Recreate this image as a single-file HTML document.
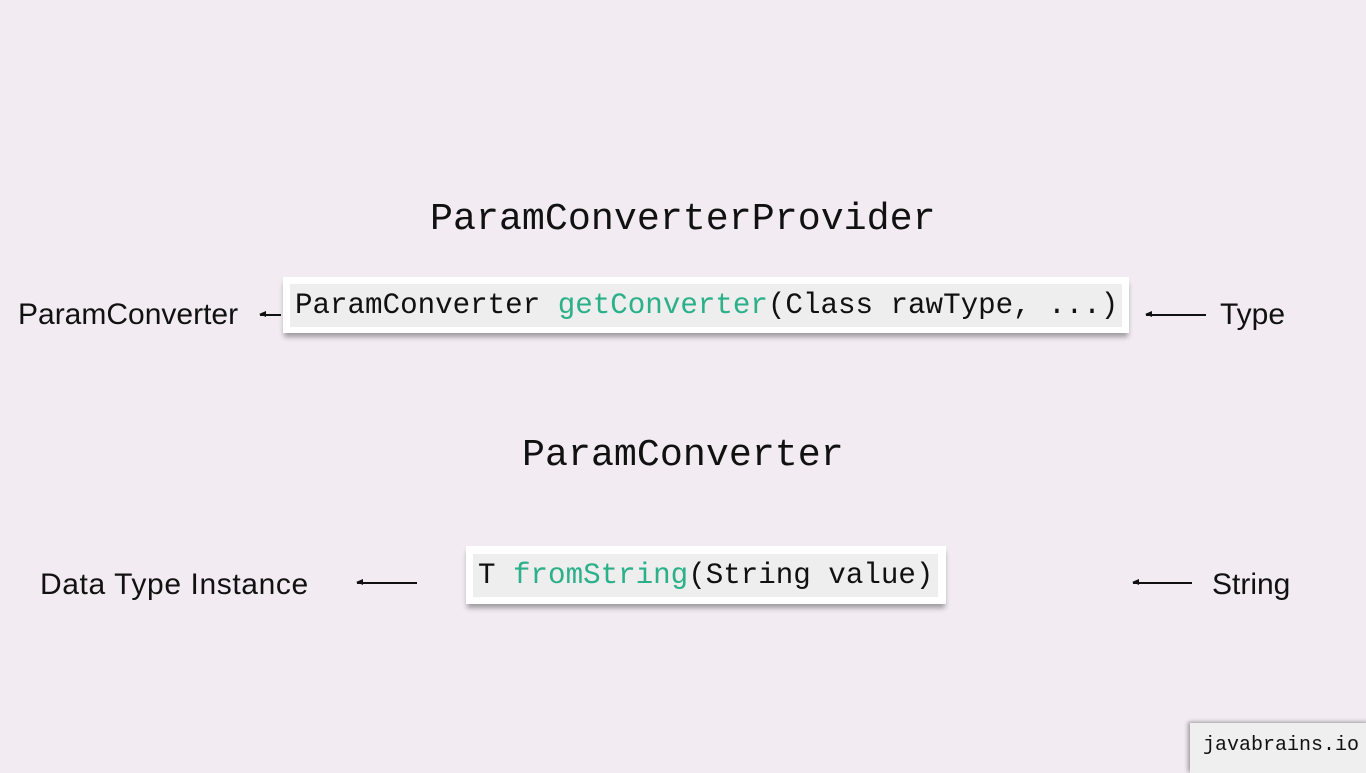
<!DOCTYPE html>
<html><head><meta charset="utf-8"><style>
html,body{margin:0;padding:0;}
body{width:1366px;height:768px;background:#f2ecf2;position:relative;overflow:hidden;}
.a{position:absolute;white-space:nowrap;}
.mono{font-family:"Liberation Mono","DejaVu Sans Mono",monospace;color:#111;}
.sans{font-family:"Liberation Sans",sans-serif;color:#111;font-size:30px;letter-spacing:0px;}
.box{position:absolute;background:#fff;box-shadow:0 5px 5px -1px rgba(0,0,0,0.35);}
.inner{position:absolute;background:#eeeeee;}
.g{color:#2bb08a;}
.arr{position:absolute;height:1.5px;background:#111;}
.arr:before{content:"";position:absolute;left:-1px;top:-3px;border-right:7px solid #111;border-top:3.5px solid transparent;border-bottom:3.5px solid transparent;}
</style></head><body>
<div class="a mono" style="left:430px;top:196px;font-size:38.3px;line-height:46px;">ParamConverterProvider</div>
<div class="box" style="left:283px;top:277px;width:846px;height:56px;"></div>
<div class="inner" style="left:290px;top:284px;width:832px;height:43px;"></div>
<div class="a mono" style="left:295px;top:288px;font-size:29.2px;line-height:36px;">ParamConverter <span class="g">getConverter</span>(Class rawType, ...)</div>
<div class="a sans" style="left:18px;top:297px;line-height:36px;">ParamConverter</div>
<div class="arr" style="left:260px;top:314px;width:21px;"></div>
<div class="arr" style="left:1146px;top:314px;width:60px;"></div>
<div class="a sans" style="left:1220px;top:297px;line-height:36px;">Type</div>

<div class="a mono" style="left:522px;top:432px;font-size:38.3px;line-height:46px;">ParamConverter</div>
<div class="box" style="left:466px;top:546px;width:480px;height:58px;"></div>
<div class="inner" style="left:473px;top:554px;width:465px;height:43px;"></div>
<div class="a mono" style="left:478px;top:558px;font-size:29.2px;line-height:36px;">T <span class="g">fromString</span>(String value)</div>
<div class="a sans" style="left:40px;top:567px;line-height:36px;letter-spacing:0.6px;">Data Type Instance</div>
<div class="arr" style="left:357px;top:582px;width:60px;"></div>
<div class="arr" style="left:1133px;top:582px;width:59px;"></div>
<div class="a sans" style="left:1212px;top:567px;line-height:36px;">String</div>

<div class="box" style="left:1190px;top:723px;width:180px;height:50px;background:#efefef;box-shadow:-2px -1px 4px rgba(0,0,0,0.35);"></div>
<div class="a mono" style="left:1203px;top:733px;font-size:20px;line-height:26px;">javabrains.io</div>
</body></html>
